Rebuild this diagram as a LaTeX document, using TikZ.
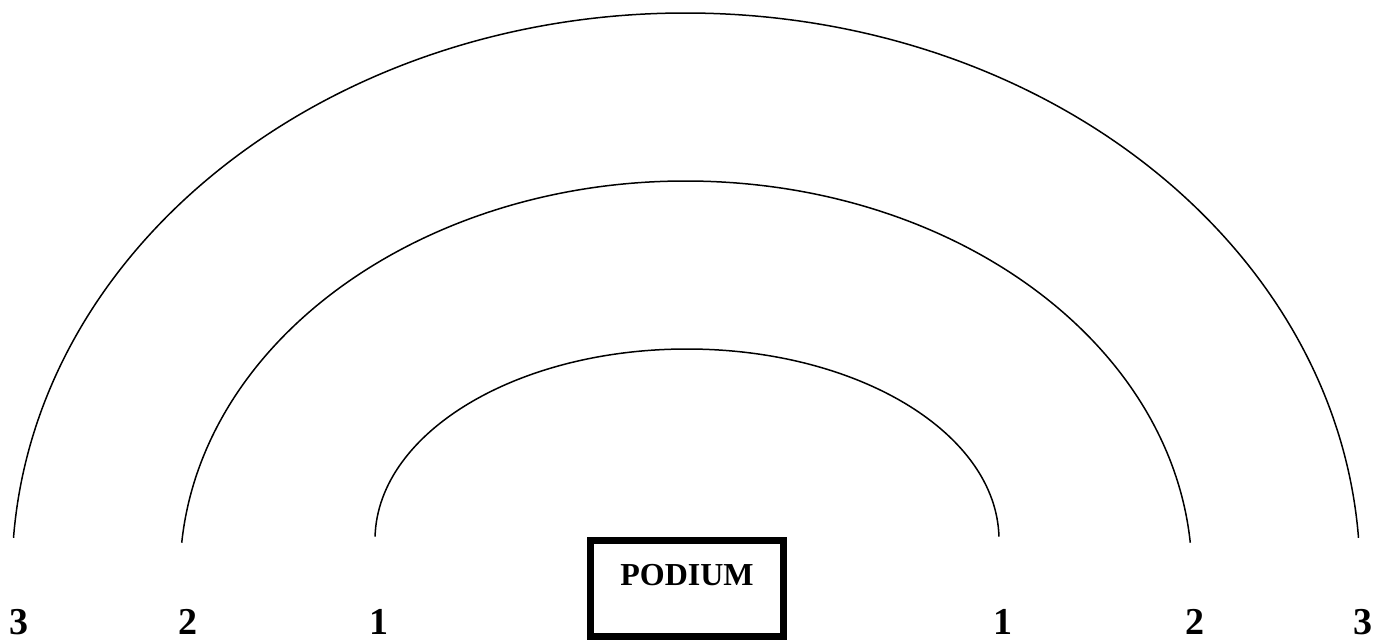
\documentclass[tikz,border=0pt]{standalone}
\usepackage{fontspec}
\setmainfont{Liberation Serif}
\begin{document}
\begin{tikzpicture}[x=1pt,y=-1pt,
  ring/.style={line width=1.5pt},
  rowlabel/.style={font=\fontsize{38}{42}\selectfont\bfseries, anchor=base, inner sep=0pt, text depth=0pt},
  podiumbox/.style={draw, line width=7pt, minimum width=193pt, minimum height=96pt, inner sep=0pt}]
\useasboundingbox (0,0) rectangle (1373,640);
% rings (elliptical arcs)
\coordinate (c3) at (686,575);
\coordinate (c2) at (686,575);
\coordinate (c1) at (687,540);
\draw[ring] (c3) ++(183.8:674 and 562) arc[start angle=183.8, end angle=356.2, x radius=674, y radius=562];
\draw[ring] (c2) ++(184.7:506 and 394) arc[start angle=184.7, end angle=355.3, x radius=506, y radius=394];
\draw[ring] (c1) ++(181:312 and 191) arc[start angle=181, end angle=359, x radius=312, y radius=191];
% podium
\node[podiumbox] (podium) at (687,588.5) {};
\node[font=\fontsize{32}{36}\selectfont\bfseries, anchor=base, inner sep=0pt] (podiumtext) at (687,585) {PODIUM};
% row labels
\node[rowlabel] (l3) at (19,634) {3};
\node[rowlabel] (l2) at (188,634) {2};
\node[rowlabel] (l1) at (379,634) {1};
\node[rowlabel] (r1) at (1003,634) {1};
\node[rowlabel] (r2) at (1195,634) {2};
\node[rowlabel] (r3) at (1363,634) {3};
\end{tikzpicture}
\end{document}
